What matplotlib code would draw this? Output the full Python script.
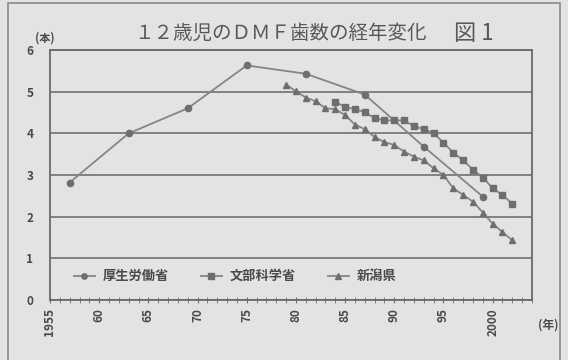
import matplotlib.pyplot as plt
import matplotlib.patches as mpatches

plt.rcParams['font.family'] = ['Noto Sans CJK JP', 'DejaVu Sans']

# 12-year-old DMFT by survey source
mhlw_years = [1957, 1963, 1969, 1975, 1981, 1987, 1993, 1999]
mhlw_dmft = [2.82, 4.00, 4.60, 5.63, 5.43, 4.93, 3.68, 2.48]

mext_years = list(range(1984, 2003))
mext_dmft = [4.76, 4.63, 4.58, 4.51, 4.36, 4.31, 4.31, 4.31, 4.17, 4.10,
             4.01, 3.77, 3.54, 3.35, 3.13, 2.94, 2.68, 2.52, 2.31]

niigata_years = list(range(1979, 2003))
niigata_dmft = [5.17, 5.01, 4.86, 4.77, 4.60, 4.58, 4.44, 4.21, 4.10, 3.91,
                3.79, 3.72, 3.56, 3.44, 3.35, 3.16, 3.00, 2.68, 2.52, 2.36,
                2.10, 1.83, 1.63, 1.43]

xtick_years = [1955, 1960, 1965, 1970, 1975, 1980, 1985, 1990, 1995, 2000]
xtick_labels = ['1955', '60', '65', '70', '75', '80', '85', '90', '95', '2000']

bg = '#e3e3e1'
line_col = '#858585'
mark_col = '#6e6e6e'
text_col = '#4a4a4a'

fig = plt.figure(figsize=(5.68, 3.6), dpi=100, facecolor=bg)
ax = fig.add_axes([50 / 568, 60 / 360, 482 / 568, 250 / 360])
ax.set_facecolor(bg)

ax.plot(mhlw_years, mhlw_dmft, color=line_col, lw=1.3, marker='o', ms=4.5,
        mfc=mark_col, mec=mark_col, label='厚生労働省')
ax.plot(mext_years, mext_dmft, color=line_col, lw=1.3, marker='s', ms=4.5,
        mfc=mark_col, mec=mark_col, label='文部科学省')
ax.plot(niigata_years, niigata_dmft, color=line_col, lw=1.3, marker='^', ms=5,
        mfc=mark_col, mec=mark_col, label='新潟県')

ax.set_xlim(1955, 2004)
ax.set_ylim(0, 6)
ax.set_yticks(range(0, 7))
ax.yaxis.grid(True, color='#707070', lw=1.2)
ax.set_axisbelow(True)
ax.tick_params(axis='y', length=0, pad=12, labelsize=8.5, labelcolor=text_col)
for lbl in ax.get_yticklabels():
    lbl.set_fontweight('bold')

ax.set_xticks(xtick_years)
ax.set_xticklabels(xtick_labels, rotation=90, fontsize=8.5, color=text_col,
                   fontweight='bold')
ax.set_xticks(range(1955, 2005), minor=True)
ax.tick_params(axis='x', which='both', direction='inout', length=4,
               color='#707070', pad=4)

for side in ['top', 'right', 'left', 'bottom']:
    ax.spines[side].set_color('#6a6a6a')
    ax.spines[side].set_linewidth(1.3)

ax.legend(loc='lower left', bbox_to_anchor=(0.025, 0.02), ncol=3, frameon=False,
          handlelength=1.6, handletextpad=0.6, columnspacing=2.4,
          prop={'size': 9.5, 'weight': 'bold'}, labelcolor=text_col,
          markerscale=0.85)

fig.text(280 / 568, 1 - 33 / 360, '１２歳児のＤＭＦ歯数の経年変化', ha='center',
         va='center', fontsize=14, color='#585858')
fig.text(454 / 568, 1 - 33 / 360, '図 1', ha='left', va='center',
         fontsize=16, color='#585858')
fig.text(45 / 568, 1 - 38 / 360, '(本)', ha='center', va='center',
         fontsize=8, color=text_col, fontweight='bold')
fig.text(548 / 568, 1 - 325 / 360, '(年)', ha='center', va='center',
         fontsize=8.5, color=text_col, fontweight='bold')

# outer frame of the figure panel
fig.patches.append(mpatches.Rectangle((8 / 568, -0.05), 552 / 568, 1.05 - 3 / 360,
                                      transform=fig.transFigure, fill=False,
                                      ec='#8a8a8a', lw=1.2))

fig.savefig('out.png', dpi=100, facecolor=bg)
